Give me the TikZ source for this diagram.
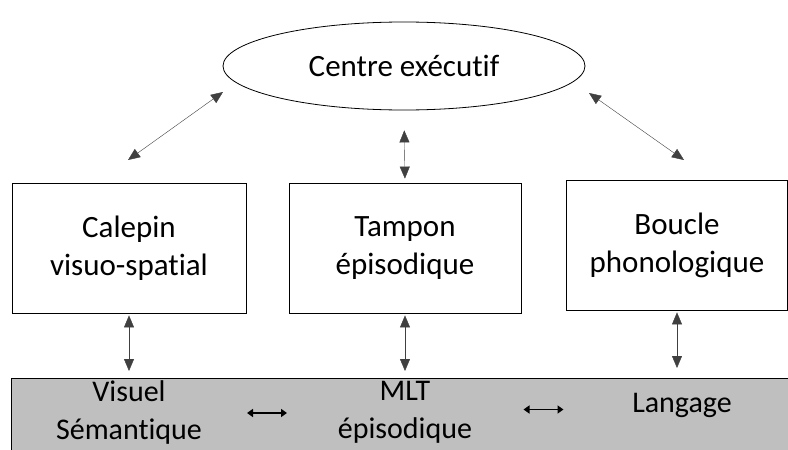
\documentclass[tikz,border=0pt]{standalone}
\usepackage{fontspec}
\setmainfont[Ligatures={CommonOff,ContextualOff,RareOff},Contextuals={AlternateOff}]{Carlito}
\usepackage{xcolor}
\usetikzlibrary{positioning,shapes.geometric,arrows.meta,calc}

\definecolor{bargray}{RGB}{191,191,191}

\begin{document}
\begin{tikzpicture}
[
x=1pt, y=-1pt,
exec-a/.style={ellipse, draw, thick, minimum width=362pt, minimum height=88pt, font=\fontsize{31}{36}\selectfont},
box-a/.style={rectangle, draw, thick, minimum width=234pt, minimum height=130pt, align=center, font=\fontsize{31}{38}\selectfont},
bar-a/.style={rectangle, draw, thick, fill=bargray, anchor=north west, minimum width=800pt, minimum height=90pt},
text-a/.style={align=center, font=\fontsize{30}{38}\selectfont},
link-a/.style={draw=black!75, {Triangle[length=12pt,width=10pt]}-{Triangle[length=12pt,width=10pt]}},
link-b/.style={line width=1.5pt, {Triangle[length=6pt,width=8pt]}-{Triangle[length=6pt,width=8pt]}}
]
\useasboundingbox (0,0) rectangle (788,450);

\node (exec)     [exec-a]                     at (404,66)  {Centre exécutif};
\node (calepin)  [box-a]                      at (129,248) {Calepin\\visuo-spatial};
\node (tampon)   [box-a, minimum width=232pt] at (405,248) {Tampon\\épisodique};
\node (boucle)   [box-a, minimum width=221pt] at (677,245) {Boucle\\phonologique};
\node (mlt-bar)  [bar-a]                      at (11,378)  {};
\node (visuel)   [text-a]                     at (129,412) {Visuel\\Sémantique};
\node (mlt)      [text-a]                     at (405,412) {MLT\\épisodique};
\node (langage)  [text-a]                     at (682,405) {Langage};

\coordinate (exec-l)    at (223,92);
\coordinate (calepin-t) at (128,160);
\coordinate (exec-r)    at (589,93);
\coordinate (boucle-t)  at (684,160);
\coordinate (mid-1)     at ($(visuel)!0.5!(mlt) + (0,1)$);
\coordinate (mid-2)     at ($(mlt)!0.5!(langage) + (0,1)$);

\draw [link-a] (exec-l) -- (calepin-t);
\draw [link-a] (exec-r) -- (boucle-t);
\draw [link-a, shorten <=20pt, shorten >=4pt] (exec.south) -- (tampon.north);
\draw [link-a, shorten <=2pt, shorten >=7pt] (calepin.south) -- (calepin.south |- mlt-bar.north);
\draw [link-a, shorten <=2pt, shorten >=7pt] (tampon.south) -- (tampon.south |- mlt-bar.north);
\draw [link-a, shorten <=2pt, shorten >=10pt] (boucle.south) -- (boucle.south |- mlt-bar.north);
\draw [link-b] ([xshift=-20pt]mid-1) -- ([xshift=20pt]mid-1);
\draw [link-b] ([xshift=-20pt]mid-2) -- ([xshift=20pt]mid-2);

\end{tikzpicture}
\end{document}
